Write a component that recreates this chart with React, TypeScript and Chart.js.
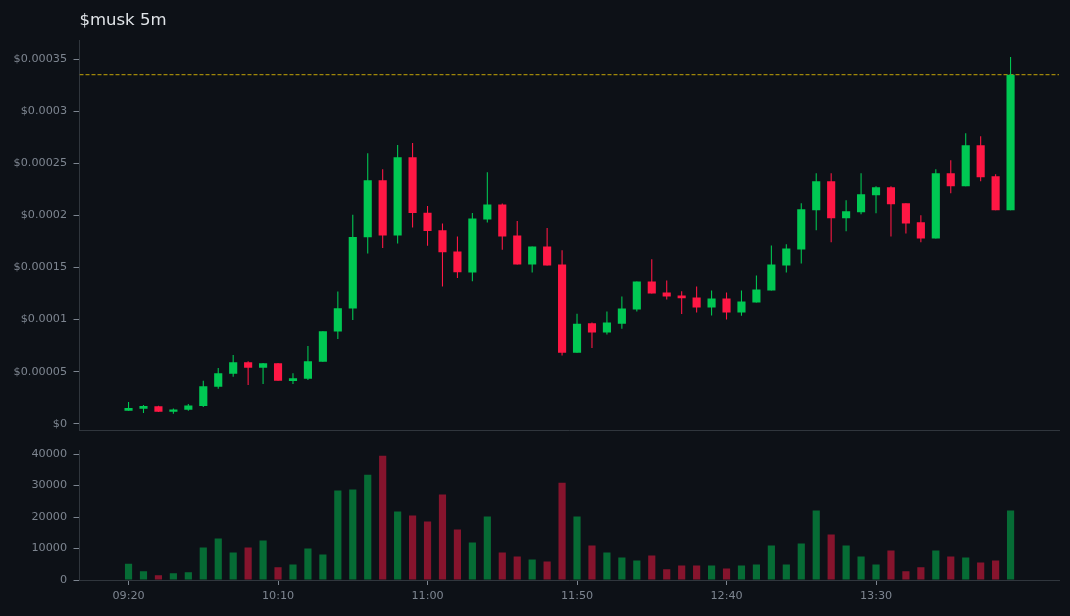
import React, { useEffect, useRef } from 'react';
import Chart from 'chart.js/auto';

// prices are in units of 1e-5 dollars
const opens = [1.25, 1.44, 1.67, 1.15, 1.35, 1.7, 3.56, 4.81, 5.9, 5.38, 5.8, 4.1, 4.33, 5.96, 8.85, 11.06, 17.91, 23.36, 18.07, 25.57, 20.25, 18.56, 16.54, 14.52, 19.61, 21.05, 18.07, 15.29, 17.02, 15.29, 6.82, 9.64, 8.75, 9.61, 10.96, 13.65, 12.59, 12.3, 12.11, 11.16, 12.02, 10.68, 11.64, 12.79, 15.2, 16.73, 20.48, 23.27, 19.72, 20.29, 21.93, 22.7, 21.16, 19.33, 17.79, 24.04, 22.79, 26.73, 23.75, 20.48];
const closes = [1.51, 1.7, 1.15, 1.38, 1.76, 3.59, 4.84, 5.9, 5.38, 5.8, 4.13, 4.36, 5.99, 8.88, 11.09, 17.92, 23.36, 18.07, 25.57, 20.22, 18.49, 16.47, 14.55, 19.71, 21.05, 17.98, 15.29, 17.02, 15.19, 6.82, 9.61, 8.75, 9.71, 11.06, 13.65, 12.5, 12.21, 12.05, 11.15, 12.02, 10.68, 11.73, 12.89, 15.29, 16.83, 20.58, 23.27, 19.72, 20.39, 22.02, 22.7, 21.06, 19.23, 17.79, 24.04, 22.79, 26.73, 23.66, 20.48, 33.5];
const highs = [2.08, 1.79, 1.73, 1.47, 1.89, 4.13, 5.35, 6.6, 5.99, 5.83, 5.83, 4.84, 7.47, 8.88, 12.69, 20.06, 25.96, 24.42, 26.76, 26.95, 20.89, 19.23, 17.98, 20.22, 24.13, 21.15, 19.45, 17.02, 18.78, 16.66, 10.57, 9.71, 10.77, 12.21, 13.65, 15.8, 13.75, 12.72, 13.17, 12.79, 12.6, 12.79, 14.24, 17.12, 17.22, 21.16, 24.04, 24.04, 21.45, 24.04, 22.79, 22.79, 21.16, 20.0, 24.43, 25.29, 27.89, 27.6, 23.95, 35.2];
const lows = [1.25, 1.03, 1.12, 0.96, 1.25, 1.6, 3.37, 4.52, 3.72, 3.81, 4.13, 3.81, 4.2, 5.96, 8.14, 9.97, 16.34, 16.86, 17.31, 18.84, 17.08, 13.17, 14.0, 13.68, 19.32, 16.7, 15.29, 14.52, 15.19, 6.54, 6.82, 7.27, 8.56, 9.13, 10.77, 12.5, 11.92, 10.54, 10.67, 10.39, 10.0, 10.36, 11.64, 12.79, 14.52, 15.39, 18.56, 17.41, 18.47, 20.1, 20.2, 17.98, 18.27, 17.41, 17.79, 22.12, 22.79, 23.27, 20.48, 20.48];
const volumes = [5170, 2740, 1480, 2110, 2430, 10340, 13190, 8760, 10340, 12550, 4010, 4960, 10020, 8120, 28380, 28700, 33440, 39460, 21730, 20470, 18570, 27110, 16040, 11920, 20150, 8760, 7490, 6540, 5910, 30910, 20150, 10970, 8760, 7170, 6220, 7810, 3380, 4640, 4640, 4640, 3690, 4640, 4960, 10970, 4960, 11600, 22050, 14450, 10970, 7490, 4960, 9390, 2740, 4010, 9390, 7490, 7170, 5590, 6220, 22050];

const timeTicks = [0, 10, 20, 30, 40, 50];
const timeLabels = ['09:20', '10:10', '11:00', '11:50', '12:40', '13:30'];
const priceTicks = [0, 0.00005, 0.0001, 0.00015, 0.0002, 0.00025, 0.0003, 0.00035];
const volumeTicks = [0, 10000, 20000, 30000, 40000];
const PRICE_UNIT = 1e-5;

const BG = '#0d1117';
const UP = '#00c853';
const DOWN = '#ff1744';
const UP_VOL = 'rgba(0, 200, 83, 0.5)';
const DOWN_VOL = 'rgba(255, 23, 68, 0.5)';
const AXIS = '#30363d';
const TICK_TEXT = '#7d8590';
const FONT = 'DejaVu Sans';

const X_MIN = -3.28;
const X_MAX = 62.24;
const AXIS_WIDTH = 79.5;

const isUp = (i: number) => closes[i] >= opens[i];

const xAxis = (showTicks: boolean, height: number) => ({
  type: 'linear' as const,
  min: X_MIN,
  max: X_MAX,
  offset: false,
  afterBuildTicks: (axis: any) => {
    axis.ticks = showTicks ? timeTicks.map((value) => ({ value })) : [];
  },
  afterFit: (axis: any) => {
    axis.height = height;
  },
  grid: { drawOnChartArea: false, drawTicks: showTicks, tickLength: 5, tickColor: TICK_TEXT, offset: false },
  border: { color: AXIS },
  ticks: {
    display: showTicks,
    autoSkip: false,
    maxRotation: 0,
    padding: 4,
    color: TICK_TEXT,
    font: { family: FONT, size: 11.2 },
    callback: (value: any) => timeLabels[timeTicks.indexOf(value)],
  },
});

const yAxis = (min: number, max: number, values: number[], format: (v: number) => string) => ({
  min,
  max,
  afterBuildTicks: (axis: any) => {
    axis.ticks = values.map((value) => ({ value }));
  },
  afterFit: (axis: any) => {
    axis.width = AXIS_WIDTH;
  },
  grid: { drawOnChartArea: false, tickLength: 6, tickColor: TICK_TEXT },
  border: { color: AXIS },
  ticks: {
    autoSkip: false,
    padding: 6.5,
    color: TICK_TEXT,
    font: { family: FONT, size: 11.2 },
    callback: (value: any) => format(value),
  },
});

const App: React.FC = () => {
  const priceRef = useRef<HTMLCanvasElement>(null);
  const volumeRef = useRef<HTMLCanvasElement>(null);

  useEffect(() => {
    if (!priceRef.current || !volumeRef.current) return;
    const index = opens.map((_, i) => i);
    const colors = index.map((i) => (isUp(i) ? UP : DOWN));
    const lastClose = closes[closes.length - 1] * PRICE_UNIT;

    const priceChart = new Chart(priceRef.current, {
      type: 'bar',
      data: {
        datasets: [
          {
            type: 'line',
            data: [{ x: X_MIN, y: lastClose }, { x: X_MAX, y: lastClose }],
            borderColor: 'rgba(255, 214, 0, 0.6)',
            borderWidth: 1.2,
            borderDash: [4, 2],
            pointRadius: 0,
            order: 3,
          },
          {
            // wicks
            data: index.map((i) => ({ x: i, y: [lows[i] * PRICE_UNIT, highs[i] * PRICE_UNIT] })),
            backgroundColor: colors,
            grouped: false,
            barPercentage: 0.09,
            order: 2,
          },
          {
            // bodies
            data: index.map((i) => ({ x: i, y: [opens[i] * PRICE_UNIT, closes[i] * PRICE_UNIT] })),
            backgroundColor: colors,
            grouped: false,
            barPercentage: 0.68,
            order: 1,
          },
        ] as any,
      },
      options: {
        responsive: false,
        animation: false,
        layout: { padding: { right: 11, bottom: 6 } },
        plugins: {
          legend: { display: false },
          tooltip: { enabled: false },
          title: {
            display: true,
            text: '$musk 5m',
            align: 'start',
            fullSize: false,
            color: '#e0e4e8',
            font: { family: FONT, size: 16.5, weight: 'normal' },
            padding: { top: 11, bottom: 9.2 },
          },
        },
        scales: {
          x: xAxis(false, 0),
          y: yAxis(-0.673 * PRICE_UNIT, 36.83 * PRICE_UNIT, priceTicks, (v) => `$${Number(v.toFixed(5))}`),
        },
      } as any,
    });

    const volumeChart = new Chart(volumeRef.current, {
      type: 'bar',
      data: {
        datasets: [
          {
            data: index.map((i) => ({ x: i, y: volumes[i] })),
            backgroundColor: index.map((i) => (isUp(i) ? UP_VOL : DOWN_VOL)),
            grouped: false,
            barPercentage: 0.6,
          },
        ],
      },
      options: {
        responsive: false,
        animation: false,
        layout: { padding: { top: 14, right: 11 } },
        plugins: {
          legend: { display: false },
          tooltip: { enabled: false },
        },
        scales: {
          x: xAxis(true, 36),
          y: yAxis(0, 41270, volumeTicks, (v) => String(v)),
        },
      } as any,
    });

    return () => {
      priceChart.destroy();
      volumeChart.destroy();
    };
  }, []);

  // the price canvas runs 8px under the volume one: the layout keeps half a tick label free below the axis
  return (
    <div style={{ position: 'fixed', inset: 0, background: BG }}>
      <canvas ref={priceRef} width={1070} height={444} style={{ display: 'block', marginBottom: -8 }} />
      <canvas ref={volumeRef} width={1070} height={180} style={{ display: 'block', position: 'relative' }} />
    </div>
  );
};

export default App;
